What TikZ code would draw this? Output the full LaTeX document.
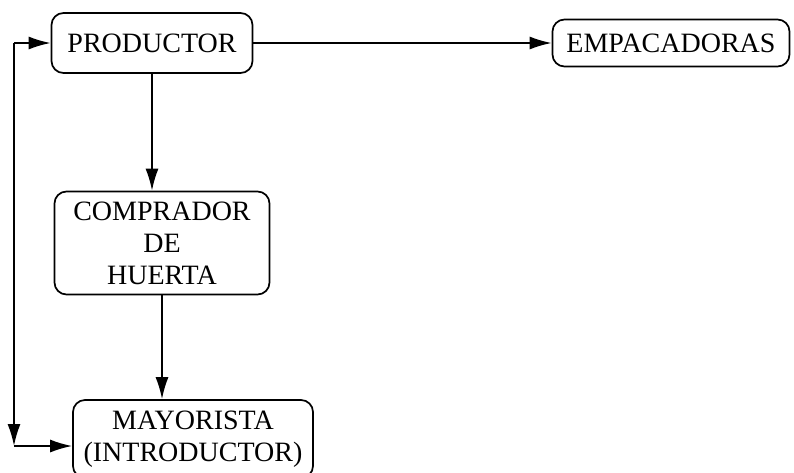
\documentclass[tikz,border=0pt]{standalone}
\usepackage{fontspec}
\setmainfont{Liberation Serif}
\usetikzlibrary{arrows.meta}
\tikzset{
  caja/.style={draw, rounded corners=12pt, line width=1.7pt, align=center, inner sep=0pt,
    font=\fontsize{28}{32}\selectfont},
  flecha/.style={line width=1.8pt, -{Latex[length=22pt,width=13pt]}}
}
\begin{document}
\begin{tikzpicture}[x=1pt,y=-1pt]
\useasboundingbox (0,0) rectangle (794,472);
\node[caja, minimum width=201pt, minimum height=60pt] (prod) at (152,43){PRODUCTOR};
\node[caja, minimum width=237pt, minimum height=47pt] (emp) at (671,43){EMPACADORAS};
\node[caja, minimum width=215pt, minimum height=103pt] (comp) at (162,243){COMPRADOR\\DE\\HUERTA};
\node[caja, minimum width=240pt, minimum height=78pt] (may) at (193,439){MAYORISTA\\(INTRODUCTOR)};
\coordinate (vuelta) at (14,446);
\coordinate (arriba) at (14,43);
\draw[flecha](prod) -- (emp);
\draw[flecha](prod.south) -- (prod.south |- comp.north);
\draw[flecha](comp.south) -- (comp.south |- may.north);
\draw[flecha](arriba) -- (prod.west);
\draw[flecha](arriba) -- (vuelta);
\draw[flecha](vuelta) -- (may.west |- vuelta);
\end{tikzpicture}
\end{document}
